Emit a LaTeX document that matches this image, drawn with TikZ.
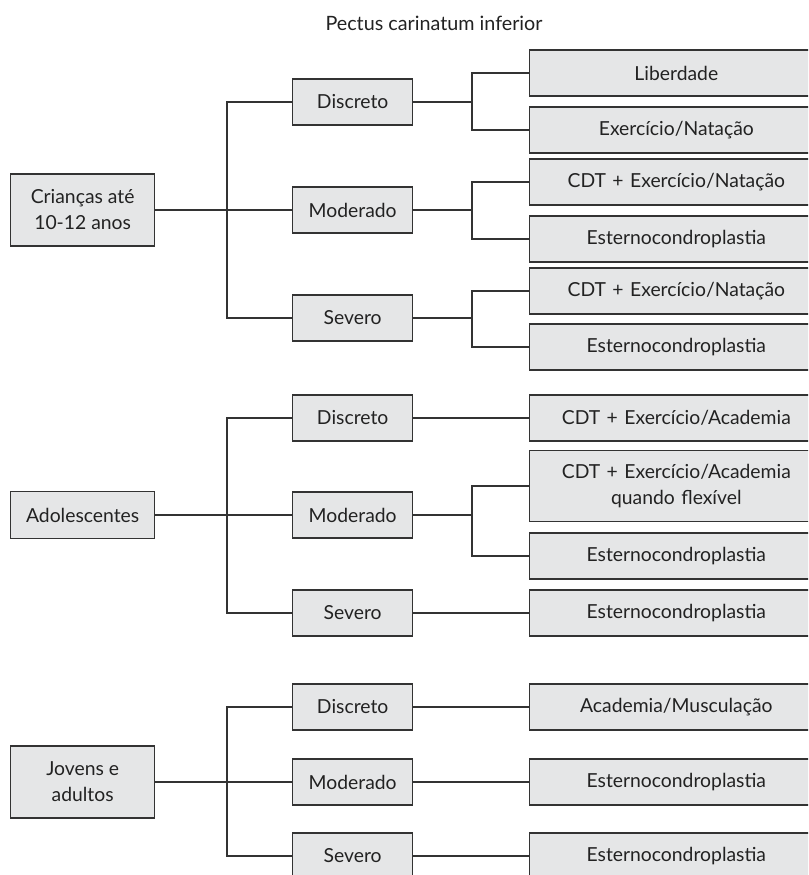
\documentclass[tikz,border=0pt]{standalone}
\usepackage{fontspec}
\setmainfont{Lato}
\usepackage{tikz}
\definecolor{boxfill}{HTML}{E5E6E7}
\definecolor{boxline}{HTML}{333333}
\definecolor{inkcol}{HTML}{222222}
\tikzset{
	box/.style={draw=boxline,fill=boxfill,line width=1pt,inner sep=0pt,align=center,text=inkcol,
		font=\fontsize{14.5}{19.5}\selectfont},
	lbox/.style={box,anchor=west,minimum width=108pt,minimum height=#1},
	mbox/.style={box,anchor=west,minimum width=90pt,minimum height=34.5pt},
	rbox/.style={box,anchor=west,minimum width=220pt,minimum height=#1,text width=209pt},
	link/.style={draw=boxline,line width=1pt}
}

\begin{document}
\begin{tikzpicture}[x=0.75pt,y=-0.75pt]
	\useasboundingbox (0,0) rectangle (808,875);
	\clip (0,0) rectangle (808,875);

	\node [text=inkcol,font=\fontsize{14.8}{16}\selectfont] (title) at (434,23) {Pectus carinatum inferior};

	% criancas
	\node [lbox=54pt] (c) at (10,210) {Crianças até\\10-12 anos};
	\node [mbox] (cd) at (292,102) {Discreto};
	\node [mbox] (cm) at (292,210) {Moderado};
	\node [mbox] (cs) at (292,318) {Severo};
	\node [rbox=34.5pt] (cd1) at (529,73) {Liberdade};
	\node [rbox=34.5pt] (cd2) at (529,130) {Exercício/Natação};
	\node [rbox=34.5pt] (cm1) at (529,182) {CDT + Exercício/Natação};
	\node [rbox=34.5pt] (cm2) at (529,239) {Esternocondroplastia};
	\node [rbox=34.5pt] (cs1) at (529,291) {CDT + Exercício/Natação};
	\node [rbox=34.5pt] (cs2) at (529,347) {Esternocondroplastia};

	% adolescentes
	\node [lbox=35.25pt] (a) at (10,515) {Adolescentes};
	\node [mbox] (ad) at (292,418) {Discreto};
	\node [mbox] (am) at (292,515) {Moderado};
	\node [mbox] (as) at (292,613) {Severo};
	\node [rbox=34.5pt] (ad1) at (529,418) {CDT + Exercício/Academia};
	\node [rbox=53.25pt] (am1) at (529,486) {CDT + Exercício/Academia\\quando flexível};
	\node [rbox=34.5pt] (am2) at (529,556) {Esternocondroplastia};
	\node [rbox=34.5pt] (as1) at (529,613) {Esternocondroplastia};

	% jovens
	\node [lbox=54pt] (j) at (10,782) {Jovens e\\adultos};
	\node [mbox] (jd) at (292,707) {Discreto};
	\node [mbox] (jm) at (292,782) {Moderado};
	\node [mbox] (js) at (292,856) {Severo};
	\node [rbox=34.5pt] (jd1) at (529,707) {Academia/Musculação};
	\node [rbox=34.5pt] (jm1) at (529,782) {Esternocondroplastia};
	\node [rbox=34.5pt] (js1) at (529,856) {Esternocondroplastia};

	\coordinate (cj) at (227,210);
	\coordinate (aj) at (227,515);
	\coordinate (jj) at (227,782);
	\coordinate (cdk) at (472,102);
	\coordinate (cmk) at (472,210);
	\coordinate (csk) at (472,318);
	\coordinate (amk) at (472,515);

	\draw [link] (c.east) -- (cm.west);
	\draw [link] (cd.west) -| (cj) |- (cs.west);
	\draw [link] (cd.east) -- (cdk);
	\draw [link] (cd1.west) -| (cdk) |- (cd2.west);
	\draw [link] (cm.east) -- (cmk);
	\draw [link] (cm1.west) -| (cmk) |- (cm2.west);
	\draw [link] (cs.east) -- (csk);
	\draw [link] (cs1.west) -| (csk) |- (cs2.west);

	\draw [link] (a.east) -- (am.west);
	\draw [link] (ad.west) -| (aj) |- (as.west);
	\draw [link] (ad.east) -- (ad1.west);
	\draw [link] (am.east) -- (amk);
	\draw [link] (am1.west) -| (amk) |- (am2.west);
	\draw [link] (as.east) -- (as1.west);

	\draw [link] (j.east) -- (jm.west);
	\draw [link] (jd.west) -| (jj) |- (js.west);
	\draw [link] (jd.east) -- (jd1.west);
	\draw [link] (jm.east) -- (jm1.west);
	\draw [link] (js.east) -- (js1.west);
\end{tikzpicture}
\end{document}
